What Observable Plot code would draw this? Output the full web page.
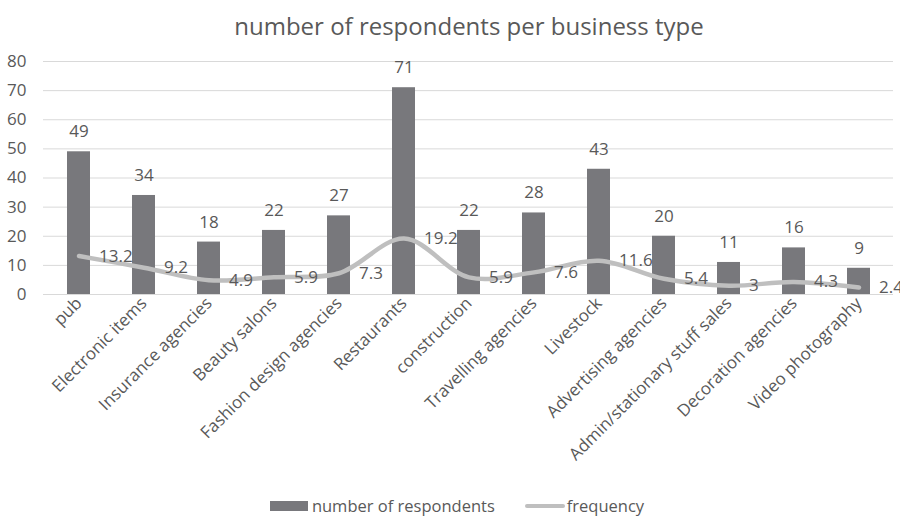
<!DOCTYPE html>
<html>
<head>
<meta charset="utf-8">
<script src="https://cdn.jsdelivr.net/npm/d3@7"></script>
<script src="https://cdn.jsdelivr.net/npm/@observablehq/plot@0.6"></script>
<style>
  html, body { margin: 0; padding: 0; background: #fff; }
  body { width: 900px; height: 521px; overflow: hidden; font-family: "Open Sans", sans-serif; color: #595959; }
  #title { height: 45px; line-height: 52px; text-align: center; font-size: 24px; padding-left: 38px; box-sizing: border-box; }
  #legend { height: 31px; display: flex; align-items: center; justify-content: center; font-size: 16.5px; padding-left: 14px; }
  .sw-bar { display: inline-block; width: 38px; height: 10px; background: #78787c; margin-right: 4px; }
  .sw-line { display: inline-block; width: 40px; height: 4px; background: #bfbfbf; border-radius: 2px; margin-left: 30px; margin-right: 2px; }
  svg { display: block; }
</style>
</head>
<body>
<div id="title">number of respondents per business type</div>
<div id="chart"></div>
<div id="legend"><span class="sw-bar"></span><span>number of respondents</span><span class="sw-line"></span><span>frequency</span></div>
<script>
const categories = ["pub", "Electronic items", "Insurance agencies", "Beauty salons", "Fashion design agencies", "Restaurants", "construction", "Travelling agencies", "Livestock", "Advertising agencies", "Admin/stationary stuff sales", "Decoration agencies", "Video photography"];
const respondents = [49, 34, 18, 22, 27, 71, 22, 28, 43, 20, 11, 16, 9];
const frequency = [13.2, 9.2, 4.9, 5.9, 7.3, 19.2, 5.9, 7.6, 11.6, 5.4, 3, 4.3, 2.4];
const yTicks = [0, 10, 20, 30, 40, 50, 60, 70, 80];

const data = categories.map((c, i) => ({ cat: c, n: respondents[i], f: frequency[i] }));

const plot = Plot.plot({
  width: 900,
  height: 445,
  marginTop: 16,
  marginBottom: 196,
  marginLeft: 43,
  marginRight: 7,
  style: { fontFamily: "Open Sans, sans-serif", fontSize: "17px", color: "#595959", background: "#fff" },
  x: { domain: categories, paddingInner: 0.65, paddingOuter: 0.325, label: null },
  y: { domain: [0, 80], label: null },
  marks: [
    Plot.ruleY(yTicks, { stroke: "#d9d9d9", strokeWidth: 1 }),
    Plot.axisY({ ticks: yTicks, tickSize: 0, tickPadding: 17, label: null, fontSize: 17 }),
    Plot.axisX({ tickSize: 0, tickRotate: -45, tickPadding: 6, label: null, fontSize: 17 }),
    Plot.barY(data, { x: "cat", y: "n", fill: "#78787c" }),
    Plot.text(data, { x: "cat", y: "n", text: d => String(d.n), dy: -20, fill: "#595959", fontSize: 17 }),
    Plot.line(data, { x: "cat", y: "f", stroke: "#bfbfbf", strokeWidth: 4.5, curve: "catmull-rom" }),
    Plot.text(data, { x: "cat", y: "f", text: d => String(d.f), textAnchor: "start", dx: 20, fill: "#595959", fontSize: 17 })
  ]
});
document.getElementById("chart").appendChild(plot);
</script>
</body>
</html>
